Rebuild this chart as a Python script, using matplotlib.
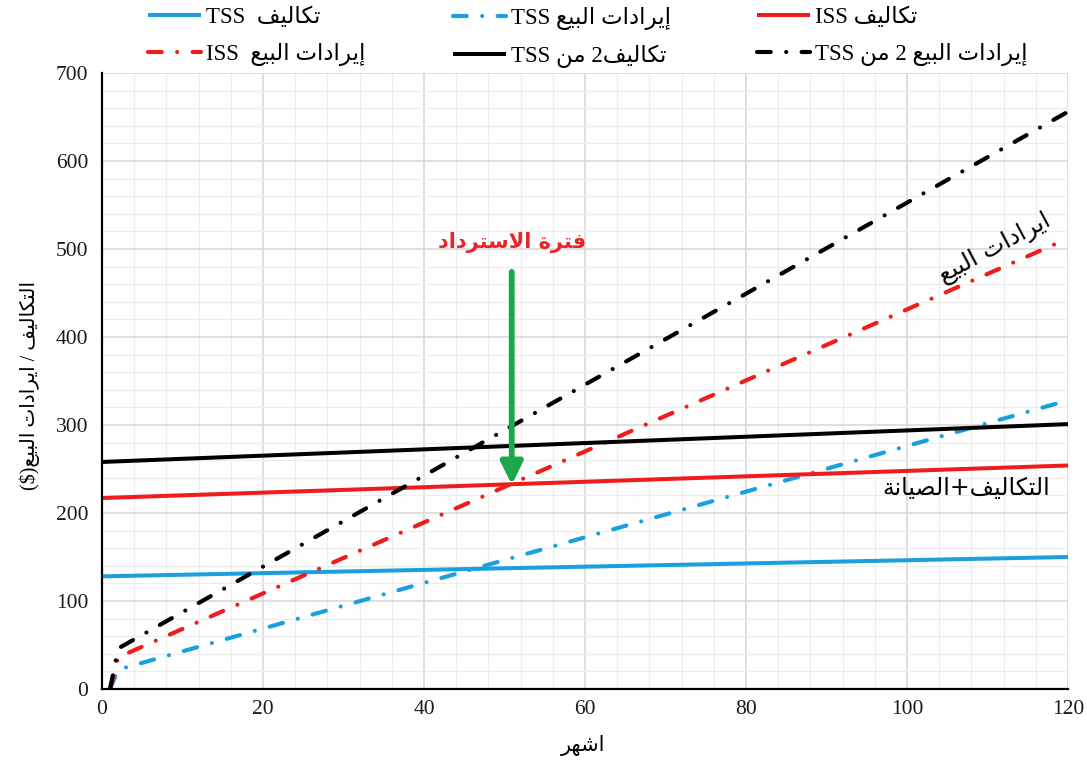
import matplotlib
matplotlib.use("Agg")
import matplotlib.pyplot as plt
from matplotlib.ticker import MultipleLocator

# monthly cost and sales-revenue lines for the three systems
months_cost = [0, 120]
tss_cost = [128, 150]
iss_cost = [217, 254]
tss2_cost = [258, 301]

months_rev = [1, 2, 120]
tss_rev = [0, 22, 328]
iss_rev = [0, 36, 512]
tss2_rev = [0, 46, 656]

payback_month = 50.9
payback_value = 232

CYAN = "#1aa0e0"
RED = "#f01c1c"
GREEN = "#1ba84a"

# --- minimal Arabic shaping (presentation forms) + RTL reversal ---
FORMS = {
    "ا": ("\uFE8D", "\uFE8E", None, None),
    "إ": ("\uFE87", "\uFE88", None, None),
    "ب": ("\uFE8F", "\uFE90", "\uFE91", "\uFE92"),
    "ة": ("\uFE93", "\uFE94", None, None),
    "ت": ("\uFE95", "\uFE96", "\uFE97", "\uFE98"),
    "د": ("\uFEA9", "\uFEAA", None, None),
    "ر": ("\uFEAD", "\uFEAE", None, None),
    "س": ("\uFEB1", "\uFEB2", "\uFEB3", "\uFEB4"),
    "ش": ("\uFEB5", "\uFEB6", "\uFEB7", "\uFEB8"),
    "ص": ("\uFEB9", "\uFEBA", "\uFEBB", "\uFEBC"),
    "ع": ("\uFEC9", "\uFECA", "\uFECB", "\uFECC"),
    "ف": ("\uFED1", "\uFED2", "\uFED3", "\uFED4"),
    "ك": ("\uFED9", "\uFEDA", "\uFEDB", "\uFEDC"),
    "ل": ("\uFEDD", "\uFEDE", "\uFEDF", "\uFEE0"),
    "م": ("\uFEE1", "\uFEE2", "\uFEE3", "\uFEE4"),
    "ن": ("\uFEE5", "\uFEE6", "\uFEE7", "\uFEE8"),
    "ه": ("\uFEE9", "\uFEEA", "\uFEEB", "\uFEEC"),
    "ي": ("\uFEF1", "\uFEF2", "\uFEF3", "\uFEF4"),
}
LAM_ALEF = {"ا": ("\uFEFB", "\uFEFC"), "إ": ("\uFEF9", "\uFEFA")}


def joins_next(c):
    return c in FORMS and FORMS[c][2] is not None


def shape(text):
    out = []
    i = 0
    n = len(text)
    while i < n:
        c = text[i]
        if c not in FORMS:
            out.append(c)
            i += 1
            continue
        after = i > 0 and joins_next(text[i - 1])
        if c == "ل" and i + 1 < n and text[i + 1] in LAM_ALEF:
            out.append(LAM_ALEF[text[i + 1]][1 if after else 0])
            i += 2
            continue
        before = joins_next(c) and i + 1 < n and text[i + 1] in FORMS
        iso, fin, ini, med = FORMS[c]
        if after and before:
            out.append(med)
        elif after:
            out.append(fin)
        elif before:
            out.append(ini)
        else:
            out.append(iso)
        i += 1
    return "".join(out)


def ar(text):
    return shape(text)[::-1]


SERIF = ["Liberation Serif", "DejaVu Sans"]
SANS = ["DejaVu Sans"]

fig = plt.figure(figsize=(10.87, 7.62), dpi=100)
ax = fig.add_axes([102 / 1087, 1 - 689 / 762, 966 / 1087, 616 / 762])

dashdot = (0, (3.3, 3.7, 0.01, 3.7))
solid_kw = dict(lw=2.9, solid_capstyle="butt")
dd_kw = dict(lw=3.0, linestyle=dashdot, dash_capstyle="round")

h1, = ax.plot(months_cost, tss_cost, color=CYAN, **solid_kw)
h2, = ax.plot(months_rev, tss_rev, color=CYAN, **dd_kw)
h3, = ax.plot(months_cost, iss_cost, color=RED, **solid_kw)
h4, = ax.plot(months_rev, iss_rev, color=RED, **dd_kw)
h5, = ax.plot(months_cost, tss2_cost, color="black", **solid_kw)
h6, = ax.plot(months_rev, tss2_rev, color="black", **dd_kw)

ax.set_xlim(0, 120)
ax.set_ylim(0, 700)
ax.xaxis.set_major_locator(MultipleLocator(20))
ax.xaxis.set_minor_locator(MultipleLocator(4))
ax.yaxis.set_major_locator(MultipleLocator(100))
ax.yaxis.set_minor_locator(MultipleLocator(20))
ax.grid(which="major", color="#d6d6d6", lw=1.1, zorder=0)
ax.grid(which="minor", color="#ededed", lw=0.9, zorder=0)
ax.set_axisbelow(True)
for s in ("top", "right"):
    ax.spines[s].set_visible(False)
for s in ("left", "bottom"):
    ax.spines[s].set_linewidth(1.6)
    ax.spines[s].set_color("black")
ax.tick_params(which="both", length=0)
ax.tick_params(axis="y", pad=10)
ax.tick_params(axis="x", pad=8)
for lab in ax.get_xticklabels() + ax.get_yticklabels():
    lab.set_fontfamily("Liberation Serif")
    lab.set_fontsize(15.5)
    lab.set_color("#1a1a1a")

# axis titles
fig.text(583 / 1087, 1 - 745 / 762, ar("اشهر"), family=SERIF, fontsize=15,
         ha="center", va="center")
fig.text(30 / 1087, 1 - 385 / 762, "($)" + ar("التكاليف / ايرادات البيع"),
         family=SERIF, fontsize=14.5, rotation=90, ha="center", va="center")

# payback marker
ax.annotate("", xy=(payback_month, payback_value), xytext=(payback_month, 474),
            arrowprops=dict(arrowstyle="-|>,head_length=0.45,head_width=0.22",
                            mutation_scale=30, lw=4.2, color=GREEN,
                            shrinkA=0, shrinkB=0))
ax.text(payback_month, 507, ar("فترة الاسترداد"), family=SANS, fontsize=15,
        fontweight="bold", color="#e8252b", ha="center", va="center")
ax.text(110.9, 501, ar("ايرادات البيع"), family=SANS, fontsize=17.5,
        rotation=28, rotation_mode="anchor", ha="center", va="center")
ax.text(107.3, 228, ar("الصيانة") + "+" + ar("التكاليف"), family=SANS,
        fontsize=17, ha="center", va="center")

# legend: three columns of two rows
rev = ar("إيرادات البيع")
cost = ar("تكاليف")
min_ = ar("من")
columns = [
    ([h1, h4], ["TSS  " + cost, "ISS  " + rev], 148),
    ([h2, h5], ["TSS " + rev, "TSS " + min_ + " 2" + cost], 453),
    ([h3, h6], ["ISS " + cost, "TSS " + min_ + " 2 " + rev], 757),
]
for handles, labels, x0 in columns:
    fig.legend(handles, labels, loc="upper left",
               bbox_to_anchor=(x0 / 1087, 1 - 7 / 762),
               frameon=False, borderpad=0, borderaxespad=0,
               handlelength=2.3, handletextpad=0.25, labelspacing=0.62,
               prop={"family": SERIF, "size": 16.5})

fig.savefig("out.png", dpi=100)
